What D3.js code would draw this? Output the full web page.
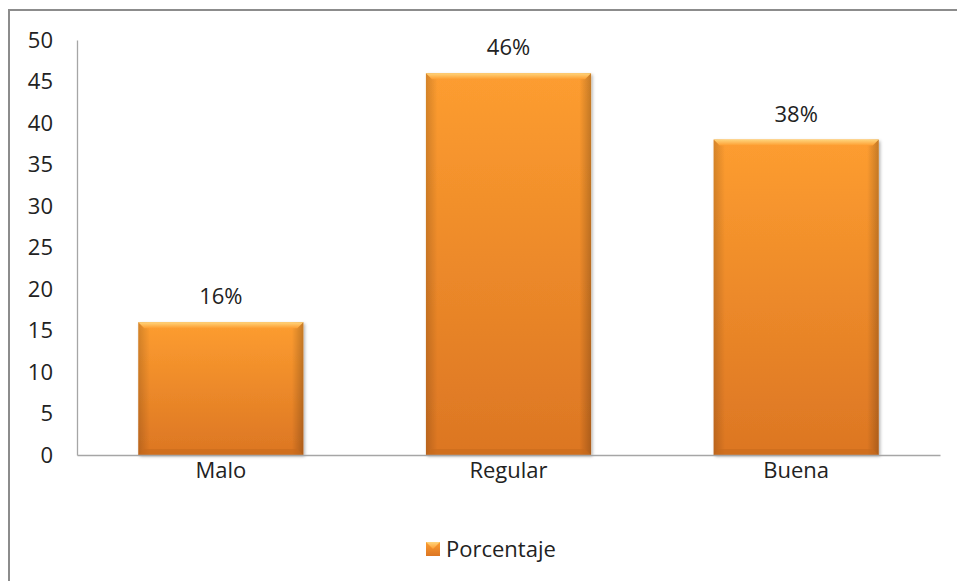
<!DOCTYPE html>
<html><head><meta charset="utf-8">
<script src="https://cdn.jsdelivr.net/npm/d3@7"></script>
<style>body{margin:0;background:#fff}svg{display:block}text{font-family:"Open Sans",sans-serif;fill:#222}</style>
</head><body><svg id="c" width="957" height="581"></svg>
<script>
const categories = ["Malo", "Regular", "Buena"];
const values = [16, 46, 38];
const valueLabels = ["16%", "46%", "38%"];
const yTicks = [0, 5, 10, 15, 20, 25, 30, 35, 40, 45, 50];
const seriesName = "Porcentaje";

const FONT = "'Open Sans', sans-serif";
const FS = 22;
const svg = d3.select("#c");
const W = 957, H = 581;
const m = {left: 77, right: 17, top: 40, bottom: 126};
const x0 = m.left, x1 = W - m.right, y0 = m.top, y1 = H - m.bottom;

// outer chart border
svg.append("rect").attr("x", 9).attr("y", 10).attr("width", W).attr("height", H)
  .attr("fill", "none").attr("stroke", "#8c8c8c").attr("stroke-width", 2);

const x = d3.scaleBand().domain(categories).range([x0, x1]).paddingInner(0.426).paddingOuter(0.213);
const y = d3.scaleLinear().domain([0, 50]).range([y1, y0]);

const defs = svg.append("defs");
const g = defs.append("linearGradient").attr("id", "bar").attr("x1", 0).attr("y1", 0).attr("x2", 0).attr("y2", 1);
g.append("stop").attr("offset", "0%").attr("stop-color", "#fd9d30");
g.append("stop").attr("offset", "100%").attr("stop-color", "#dc7623");
const gs = defs.append("linearGradient").attr("id", "side").attr("x1", 0).attr("y1", 0).attr("x2", 1).attr("y2", 0);
gs.append("stop").attr("offset", "0%").attr("stop-color", "#000").attr("stop-opacity", 0.16);
gs.append("stop").attr("offset", "7%").attr("stop-color", "#000").attr("stop-opacity", 0);
gs.append("stop").attr("offset", "93%").attr("stop-color", "#000").attr("stop-opacity", 0);
gs.append("stop").attr("offset", "100%").attr("stop-color", "#000").attr("stop-opacity", 0.22);
const gt = defs.append("linearGradient").attr("id", "top").attr("x1", 0).attr("y1", 0).attr("x2", 0).attr("y2", 1);
gt.append("stop").attr("offset", "0%").attr("stop-color", "#ffd57c");
gt.append("stop").attr("offset", "100%").attr("stop-color", "#fd9d30");
const f = defs.append("filter").attr("id", "sh").attr("x", "-10%").attr("y", "-10%").attr("width", "130%").attr("height", "130%");
f.append("feDropShadow").attr("dx", 1.5).attr("dy", 1.5).attr("stdDeviation", 1.5).attr("flood-color", "#000").attr("flood-opacity", 0.3);

// y axis
const yAxis = d3.axisLeft(y).tickValues(yTicks).tickSize(0).tickPadding(24);
const ya = svg.append("g").attr("transform", `translate(${x0},0)`).call(yAxis);
ya.select(".domain").attr("stroke", "#a6a6a6").attr("stroke-width", 1.3);
ya.selectAll("text").attr("font-size", FS).attr("font-family", FONT).attr("fill", "#222");

// bars
const bars = svg.append("g");
categories.forEach((c, i) => {
  const bx = x(c), bw = x.bandwidth(), by = y(values[i]), bh = y(0) - y(values[i]);
  const bg = bars.append("g");
  bg.append("rect").attr("x", bx).attr("y", by).attr("width", bw).attr("height", bh)
    .attr("fill", "url(#bar)").attr("filter", "url(#sh)");
  bg.append("rect").attr("x", bx).attr("y", by).attr("width", bw).attr("height", bh).attr("fill", "url(#side)");
  const e = 6;
  bg.append("path").attr("d", `M${bx},${by}H${bx + bw}L${bx + bw - e},${by + e}H${bx + e}Z`).attr("fill", "url(#top)");
  bg.append("path").attr("d", `M${bx},${by + bh}H${bx + bw}L${bx + bw - e},${by + bh - e}H${bx + e}Z`).attr("fill", "#c86a1c").attr("opacity", 0.6);
  svg.append("text").attr("x", bx + bw / 2).attr("y", by - 18).attr("text-anchor", "middle")
    .attr("font-size", FS).attr("font-family", FONT).text(valueLabels[i]);
});

// x axis
const xAxis = d3.axisBottom(x).tickSize(0).tickPadding(7);
const xa = svg.append("g").attr("transform", `translate(0,${y1})`).call(xAxis);
xa.select(".domain").attr("stroke", "#a6a6a6").attr("stroke-width", 1.3);
xa.selectAll("text").attr("font-size", FS).attr("font-family", FONT).attr("fill", "#222");

// legend
const lg = svg.append("g").attr("transform", "translate(426,542)");
lg.append("rect").attr("width", 14).attr("height", 14).attr("fill", "url(#bar)");
lg.append("path").attr("d", "M0,0H14L7,7Z").attr("fill", "url(#top)");
lg.append("text").attr("x", 20).attr("y", 15).attr("font-size", FS).attr("font-family", FONT).text(seriesName);
</script></body></html>
